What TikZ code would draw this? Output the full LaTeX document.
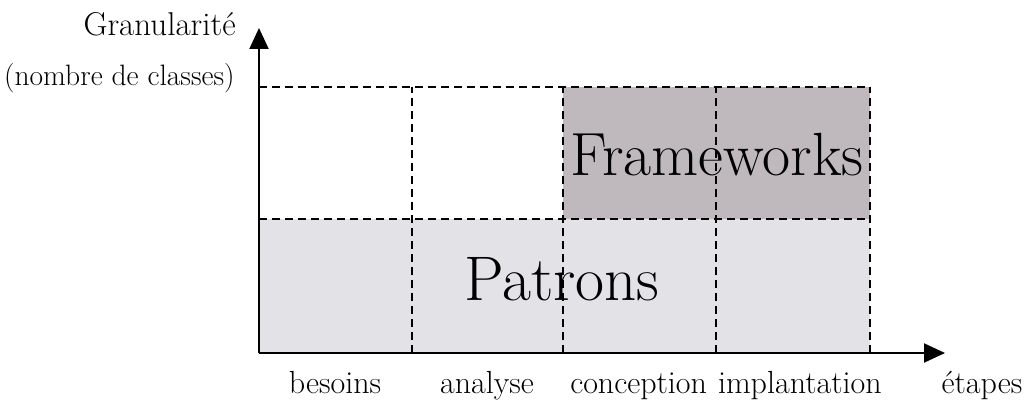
\documentclass[tikz,border=0pt]{standalone}
\usepackage{tikz}
\usetikzlibrary{arrows.meta}
\definecolor{patronsgray}{RGB}{226,226,231}
\definecolor{frameworksgray}{RGB}{191,185,189}

\begin{document}
\begin{tikzpicture}[x=1pt,y=1pt,line width=2pt,
  axis/.style={-{Triangle[length=21pt,width=19pt]}},
  grid line/.style={dashed,dash pattern=on 8pt off 5pt,line width=2pt},
  stage/.style={anchor=base,font=\fontsize{32}{37}\selectfont},
  big label/.style={anchor=base,font=\fontsize{61}{70}\selectfont}]

  \useasboundingbox (0,0) rectangle (1030,400);

  % coordinates
  \coordinate (O) at (259,47);
  \coordinate (ytip) at (259,372);
  \coordinate (xtip) at (945,47);
  \coordinate (top) at (870,313);
  \coordinate (mid) at (259,181);
  \coordinate (midend) at (870,181);

  % fills
  \fill[patronsgray] (O) rectangle (midend);
  \fill[frameworksgray] (563,181) rectangle (top);

  % dashed grid
  \draw[grid line] (259,313) -- (top);
  \draw[grid line] (mid) -- (midend);
  \draw[grid line] (412,47) -- (412,313);
  \draw[grid line] (563,47) -- (563,313);
  \draw[grid line] (716,47) -- (716,313);
  \draw[grid line] (870,47) -- (top);

  % axes
  \draw[axis] (O) -- (ytip);
  \draw[axis] (O) -- (xtip);

  \node[big label] (frameworks) at (717,225) {Frameworks};
  \node[big label,font=\fontsize{63}{72}\selectfont] (patrons) at (562,100) {Patrons};

  \node[anchor=base east,font=\fontsize{33}{38}\selectfont] (gran) at (240,364) {Granularité};
  \node[anchor=base east,font=\fontsize{29.5}{34}\selectfont] (nbclasses) at (239,315) {(nombre de classes)};

  \node[stage] (besoins) at (335,7) {besoins};
  \node[stage] (analyse) at (487,7) {analyse};
  \node[stage,anchor=base east,inner sep=0pt] (conception) at (708,7) {conception};
  \node[stage,anchor=base west,inner sep=0pt] (implantation) at (717,7) {implantation};
  \node[stage] (etapes) at (982,7) {étapes};

\end{tikzpicture}
\end{document}
